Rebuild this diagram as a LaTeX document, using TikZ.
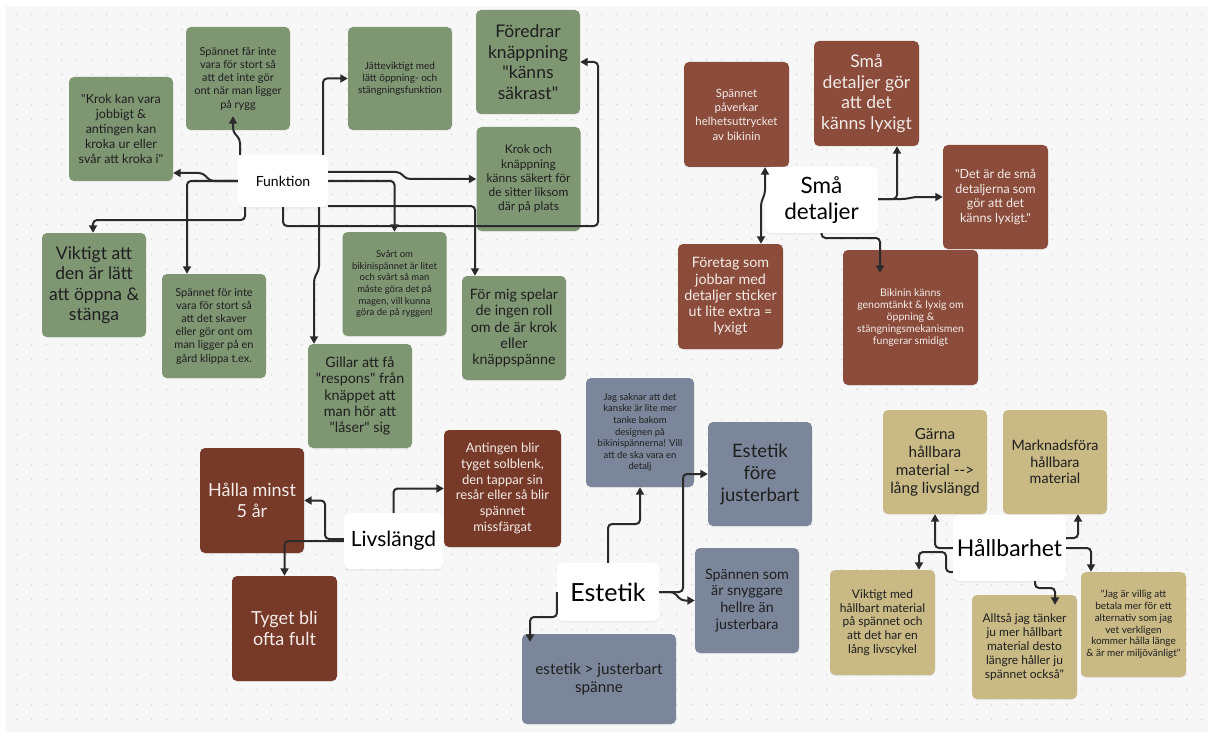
\documentclass[tikz,border=0pt]{standalone}
\usepackage{fontspec}
\newfontfamily\latof{Lato}
\usetikzlibrary{arrows.meta,shadows}
\definecolor{cgreen}{HTML}{7F9673}
\definecolor{cbrownA}{HTML}{8B4C3C}
\definecolor{cbrownB}{HTML}{773A29}
\definecolor{cblue}{HTML}{7B869B}
\definecolor{ctan}{HTML}{C8B985}
\definecolor{cbg}{HTML}{F7F7F7}
\definecolor{cdot}{HTML}{D6D6D6}
\definecolor{cline}{HTML}{2A2A2A}
\definecolor{cdark}{HTML}{1E1E1E}
\definecolor{clight}{HTML}{F4ECE8}
\newcommand\setfz[2]{\latof\fontsize{#1pt}{#2pt}\selectfont}
\tikzset{
  card/.style={rounded corners=5pt, minimum width=104pt, minimum height=104pt,
    align=center, inner sep=1pt,
    drop shadow={opacity=0.10, shadow xshift=0pt, shadow yshift=-1.2pt}},
  gbox/.style={card, fill=cgreen, text=cdark},
  sbox/.style={card, fill=cbrownA, text=clight},
  lbox/.style={card, fill=cbrownB, text=clight},
  ebox/.style={card, fill=cblue, text=cdark},
  tbox/.style={card, fill=ctan, text=cdark},
  wbox/.style={rounded corners=6pt, fill=white, text=black, align=center, inner sep=1pt,
    drop shadow={opacity=0.10, shadow xshift=0pt, shadow yshift=-1.5pt}},
  conn/.style={draw=cline, line width=2pt, rounded corners=4pt,
    -{Triangle[length=7.5pt,width=8pt]}},
  conn2/.style={draw=cline, line width=2pt, rounded corners=4pt,
    {Triangle[length=7.5pt,width=8pt]}-{Triangle[length=7.5pt,width=8pt]}},
}
\begin{document}
\begin{tikzpicture}[x=1pt,y=-1pt]
\useasboundingbox (0,0) rectangle (1214,738);
\fill[white] (0,0) rectangle (1214,738);
\fill[cbg] (6,6) rectangle (1208,732);
\foreach \i in {0,...,79}{
  \foreach \j in {0,...,47}{
    \fill[cdot] (16.7+15*\i, 14.5+15*\j) circle (0.8pt);
  }
}
% ---------------- Funktion group
\node[gbox, font={\setfz{12.5}{15}}] (n1) at (121,129) {"Krok kan vara\\jobbigt \&\\antingen kan\\kroka ur eller\\svår att kroka i"};
\node[gbox, minimum height=103pt, font={\setfz{11}{13.3}}] (n2) at (238,78.5) {Spännet får inte\\vara för stort så\\att det inte gör\\ont när man ligger\\på rygg};
\node[gbox, minimum height=103pt, font={\setfz{10}{12}}] (n3) at (400,78.5) {Jätteviktigt med\\lätt öppning- och\\stängningsfunktion};
\node[gbox, font={\setfz{17.5}{20.5}}] (n4) at (528,62) {Föredrar\\knäppning\\"känns\\säkrast"};
\node[gbox, font={\setfz{12}{14.2}}] (n5) at (528.5,179) {Krok och\\knäppning\\känns säkert för\\de sitter liksom\\där på plats};
\node[gbox, font={\setfz{17.5}{20.5}}] (n6) at (94,285) {Viktigt att\\den är lätt\\att öppna \&\\stänga};
\node[gbox, font={\setfz{11}{13.2}}] (n7) at (214,326) {Spännet för inte\\vara för stort så\\att det skaver\\eller gör ont om\\man ligger på en\\gård klippa t.ex.};
\node[gbox, font={\setfz{9.5}{11.7}}] (n8) at (394.5,284) {Svårt om\\bikinispännet är litet\\och svårt så man\\måste göra det på\\magen, vill kunna\\göra de på ryggen!};
\node[gbox, font={\setfz{14.3}{16.3}}] (n9) at (514,328) {För mig spelar\\de ingen roll\\om de är krok\\eller\\knäppspänne};
\node[gbox, font={\setfz{14.3}{16.3}}] (n10) at (360,396) {Gillar att få\\"respons" från\\knäppet att\\man hör att\\"låser" sig};
\node[wbox, minimum width=90pt, minimum height=52pt, font={\setfz{14}{16}}] (fk) at (283,181) {Funktion};
% ---------------- Små detaljer group
\node[sbox, minimum width=105pt, minimum height=105pt, font={\setfz{11.5}{14.3}}] (sA) at (736.5,114.5) {Spännet\\påverkar\\helhetsuttrycket\\av bikinin};
\node[sbox, minimum width=105pt, minimum height=105pt, font={\setfz{17.5}{20.5}}] (sB) at (866.5,93.5) {Små\\detaljer gör\\att det\\känns lyxigt};
\node[sbox, minimum width=105pt, font={\setfz{12.5}{14.8}}] (sC) at (995.5,197) {"Det är de små\\detaljerna som\\gör att det\\känns lyxigt."};
\node[sbox, minimum width=105pt, minimum height=105pt, font={\setfz{14.3}{16.3}}] (sD) at (730.5,296.5) {Företag som\\jobbar med\\detaljer sticker\\ut lite extra =\\lyxigt};
\node[sbox, minimum width=135pt, minimum height=135pt, font={\setfz{10.5}{12.2}}] (sE) at (910.5,317.5) {Bikinin känns\\genomtänkt \& lyxig om\\öppning \&\\stängningsmekanismen\\fungerar smidigt};
\node[wbox, minimum width=113pt, minimum height=66pt, font={\setfz{22.5}{26.7}}] (sm) at (821.5,200) {Små\\detaljer};
% ---------------- Livslängd group
\node[lbox, minimum height=105pt, font={\setfz{18}{21}}] (lH) at (252,500.5) {Hålla minst\\5 år};
\node[lbox, minimum width=117pt, minimum height=117pt, font={\setfz{13}{15.7}}] (lA) at (502.5,488.5) {Antingen blir\\tyget solblenk,\\den tappar sin\\resår eller så blir\\spännet\\missfärgat};
\node[lbox, minimum width=105pt, minimum height=105pt, font={\setfz{18}{21.5}}] (lT) at (284.5,628.5) {Tyget bli\\ofta fult};
\node[wbox, minimum width=99pt, minimum height=56pt, font={\setfz{21}{24}}] (lv) at (393.5,541) {Livslängd};
% ---------------- Estetik group
\node[ebox, minimum width=108pt, minimum height=109pt, font={\setfz{9.5}{11.6}}] (eJ) at (640,432.5) {Jag saknar att det\\kanske är lite mer\\tanke bakom\\designen på\\bikinispännerna! Vill\\att de ska vara en\\detalj};
\node[ebox, font={\setfz{18.5}{22}}] (eF) at (760,474) {Estetik\\före\\justerbart};
\node[ebox, minimum height=105pt, font={\setfz{14.3}{16.8}}] (eS) at (747,600.5) {Spännen som\\är snyggare\\hellre än\\justerbara};
\node[ebox, minimum width=154pt, minimum height=90pt, font={\setfz{15.3}{18}}] (eG) at (599,679) {estetik > justerbart\\spänne};
\node[wbox, minimum width=102pt, minimum height=58pt, font={\setfz{25}{28}}] (es) at (608,592) {Estetik};
% ---------------- Hållbarhet group
\node[tbox, font={\setfz{15.3}{18}}] (hG) at (935,462) {Gärna\\hållbara\\material -->\\lång livslängd};
\node[tbox, font={\setfz{14.3}{16.3}}] (hM) at (1055,462) {Marknadsföra\\hållbara\\material};
\node[tbox, minimum width=105pt, minimum height=105pt, font={\setfz{12}{13.8}}] (hV) at (882.5,622.5) {Viktigt med\\hållbart material\\på spännet och\\att det har en\\lång livscykel};
\node[tbox, minimum width=105pt, font={\setfz{12}{14}}] (hA) at (1024.5,647) {Alltså jag tänker\\ju mer hållbart\\material desto\\längre håller ju\\spännet också"};
\node[tbox, minimum width=105pt, minimum height=105pt, font={\setfz{10}{11.8}}] (hJ) at (1133.5,624.5) {"Jag är villig att\\betala mer för ett\\alternativ som jag\\vet verkligen\\kommer hålla länge\\\& är mer miljövänligt"};
\node[wbox, minimum width=113pt, minimum height=66pt, font={\setfz{23}{26}}] (hb) at (1009.5,548) {Hållbarhet};
% ---------------- connectors: Funktion
\draw[conn] ([xshift=-43pt]fk.north) -- (240,139) -- (233,132) -- ([xshift=-5pt,yshift=14pt]n2.south);
\draw[conn] (fk.west) -- (210,181) -- (203,173) -- ([yshift=-44pt]n1.east);
\draw[conn] (fk.west) -- (187,181) -- ([xshift=-27pt]n7.north);
\draw[conn] ([xshift=-38pt]fk.south) -- (245,220) -- (93,220) -- ([xshift=-1pt]n6.north);
\draw[conn] ([xshift=36pt]fk.south) -- (319,270) -- (314,278) -- ([xshift=-46pt]n10.north);
\draw[conn] ([xshift=40pt]fk.north) -- (323,78.5) -- (n3.west);
\draw[conn] ([yshift=9pt]fk.east) -- (400,172) -- (406,179) -- (n5.west);
\draw[conn] (fk.east) -- (394.5,181) -- (n8.north);
\draw[conn] ([yshift=-25pt]fk.east) -- (475,206) -- ([xshift=-39pt]n9.north);
\draw[conn] (fk.south) -- (283,226) -- (598,226) -- (598,62) -- (n4.east);
% ---------------- connectors: Små detaljer
\draw[conn2] ([xshift=28.5pt]sA.south) -- (765,194) -- (761,202) -- ([xshift=30.5pt]sD.north);
\draw[conn] ([yshift=1pt]sm.east) -- (897,199) -- ([xshift=30.5pt]sB.south);
\draw[conn] ([yshift=1pt]sm.east) -- (906,199) -- (914,197) -- (sC.west);
\draw[conn] (sm.south) -- (821.5,238) -- (880,238) -- ([xshift=-30.5pt,yshift=-23pt]sE.north);
% ---------------- connectors: Livslängd
\draw[conn] ([yshift=2pt]lv.west) -- (325,539) -- (325,500.5) -- (lH.east);
\draw[conn] (lv.west) -- (284.5,541) -- (lT.north);
\draw[conn] (lv.north) -- (393.5,488.5) -- (lA.west);
% ---------------- connectors: Estetik
\draw[conn] (es.north) -- (608,524) -- (640,524) -- (eJ.south);
\draw[conn] (es.east) -- (683,592) -- (683,474) -- (eF.west);
\draw[conn] (es.east) -- (674,592) -- (681,600.5) -- (eS.west);
\draw[conn] (es.west) -- (557,617) -- (530,617) -- ([xshift=-69pt,yshift=-8pt]eG.north);
% ---------------- connectors: Hållbarhet
\draw[conn] (hb.west) -- (935,548) -- (hG.south);
\draw[conn] ([yshift=-24pt]hb.west) -- (946,572) -- (946,552) -- (919,552) -- ([xshift=36.5pt]hV.north);
\draw[conn] ([yshift=10pt]hb.east) -- (1078,538) -- ([xshift=23pt]hM.south);
\draw[conn] (hb.east) -- (1091,548) -- ([xshift=-42.5pt]hJ.north);
\draw[conn] ([xshift=25.5pt]hb.south) -- (1035,588) -- (1055,588) -- ([xshift=30.5pt,yshift=-10pt]hA.north);
\end{tikzpicture}
\end{document}
